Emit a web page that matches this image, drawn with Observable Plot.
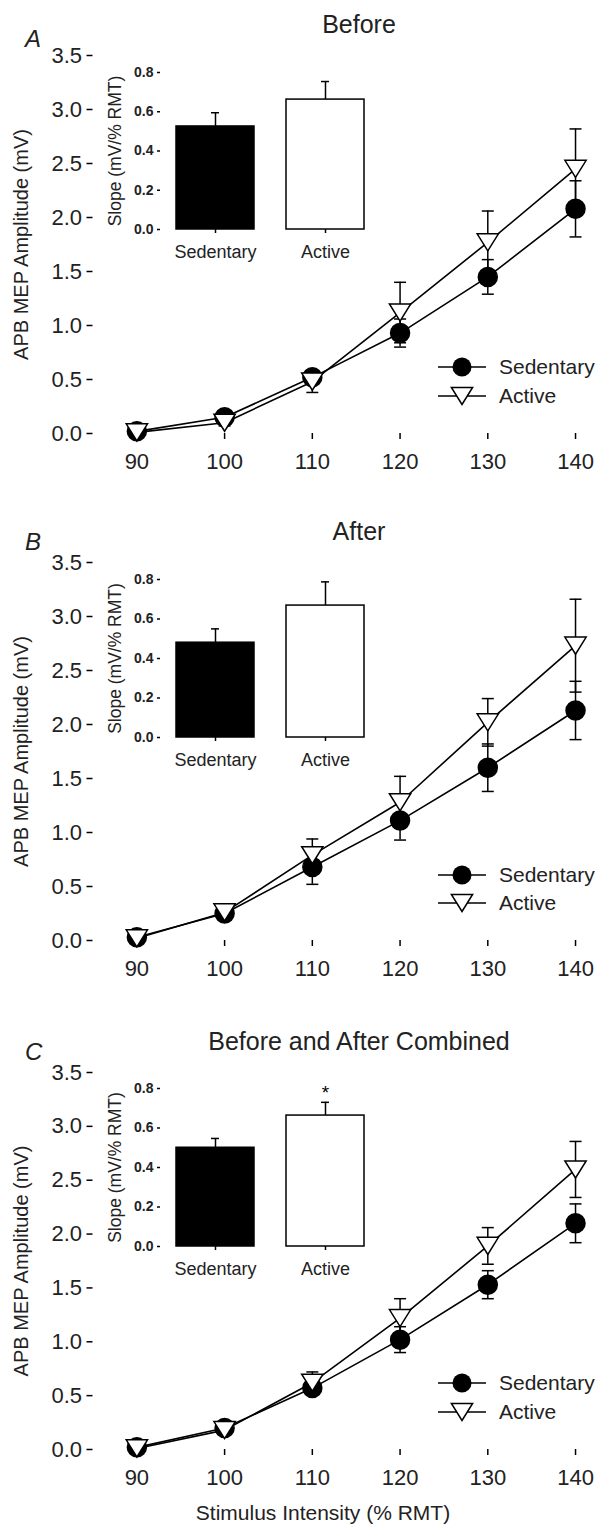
<!DOCTYPE html>
<html>
<head>
<meta charset="utf-8">
<script src="https://cdn.jsdelivr.net/npm/d3@7"></script>
<script src="https://cdn.jsdelivr.net/npm/@observablehq/plot@0.6"></script>
<style>
  body { margin: 0; background: #fff; }
  #root { position: relative; width: 611px; height: 1526px; overflow: hidden;
          font-family: Arial, "Liberation Sans", sans-serif; background: #fff; }
  #root svg { position: absolute; }
</style>
</head>
<body>
<div id="root"></div>
<script>
// ---------------- data ----------------
const intensity = [90, 100, 110, 120, 130, 140];
const groups = ["Sedentary", "Active"];
const panelTitles = ["Before", "After", "Before and After Combined"];
const panelLetters = ["A", "B", "C"];
const yTicks = [0, 0.5, 1.0, 1.5, 2.0, 2.5, 3.0, 3.5];
const slopeTicks = [0, 0.2, 0.4, 0.6, 0.8];
const yLabel = "APB MEP Amplitude (mV)";
const slopeLabel = "Slope (mV/% RMT)";
const xLabel = "Stimulus Intensity (% RMT)";

// Panel A (Before)
const beforeSedMean = [0.02, 0.15, 0.52, 0.93, 1.45, 2.08];
const beforeSedSem  = [0.01, 0.03, 0.06, 0.13, 0.16, 0.26];
const beforeActMean = [0.01, 0.10, 0.48, 1.12, 1.77, 2.45];
const beforeActSem  = [0.01, 0.03, 0.10, 0.28, 0.29, 0.37];
const beforeSlopeMean = [0.525, 0.662];
const beforeSlopeSem  = [0.070, 0.092];
const beforeSig = ["", ""];

// Panel B (After)
const afterSedMean = [0.03, 0.25, 0.68, 1.11, 1.60, 2.13];
const afterSedSem  = [0.01, 0.03, 0.16, 0.18, 0.22, 0.27];
const afterActMean = [0.02, 0.26, 0.79, 1.28, 2.02, 2.73];
const afterActSem  = [0.01, 0.03, 0.15, 0.24, 0.22, 0.43];
const afterSlopeMean = [0.48, 0.668];
const afterSlopeSem  = [0.07, 0.12];
const afterSig = ["", ""];

// Panel C (Combined)
const combSedMean = [0.02, 0.20, 0.57, 1.02, 1.53, 2.10];
const combSedSem  = [0.01, 0.02, 0.05, 0.12, 0.13, 0.18];
const combActMean = [0.01, 0.18, 0.62, 1.22, 1.89, 2.60];
const combActSem  = [0.01, 0.02, 0.10, 0.18, 0.17, 0.26];
const combSlopeMean = [0.50, 0.663];
const combSlopeSem  = [0.047, 0.067];
const combSig = ["", "*"];

// ---------------- layout ----------------
const FONT = 'Arial, "Liberation Sans", sans-serif';
const layouts = [
  { y35: 55,   y0: 433,  i08: 72,   i0: 229,  title: 33,   letter: 47,   leg: [367, 396] },
  { y35: 562,  y0: 940,  i08: 579,  i0: 737,  title: 540,  letter: 550,  leg: [875, 903] },
  { y35: 1072, y0: 1449, i08: 1088, i0: 1246, title: 1050, letter: 1060, leg: [1383, 1412] }
];
const panels = [
  { sed: [beforeSedMean, beforeSedSem], act: [beforeActMean, beforeActSem], slope: [beforeSlopeMean, beforeSlopeSem], sig: beforeSig },
  { sed: [afterSedMean, afterSedSem],   act: [afterActMean, afterActSem],   slope: [afterSlopeMean, afterSlopeSem],   sig: afterSig },
  { sed: [combSedMean, combSedSem],     act: [combActMean, combActSem],     slope: [combSlopeMean, combSlopeSem],     sig: combSig }
];

// custom symbols
const triDown = {
  draw(ctx, size) {
    const r = Math.sqrt(size / Math.PI);
    const w = 1.12 * r, h = 0.9 * r;
    ctx.moveTo(-w, -h); ctx.lineTo(w, -h); ctx.lineTo(0, h); ctx.closePath();
  }
};
const capSym = {
  draw(ctx, size) {
    const r = Math.sqrt(size / Math.PI);
    ctx.moveTo(-r, 0); ctx.lineTo(r, 0);
  }
};

const root = document.getElementById("root");

// overlay text svg (titles, letters, legend, x label)
const overlay = d3.select(root).append("svg")
  .attr("width", 611).attr("height", 1526)
  .style("left", "0px").style("top", "0px")
  .style("font-family", FONT);

function place(el, left, top) {
  el.style.position = "absolute";
  el.style.left = left + "px";
  el.style.top = top + "px";
  root.appendChild(el);
}

panels.forEach((p, k) => {
  const L = layouts[k];
  const rows = [];
  intensity.forEach((x, i) => rows.push({ group: "Sedentary", x, mean: p.sed[0][i], sem: p.sed[1][i] }));
  intensity.forEach((x, i) => rows.push({ group: "Active", x, mean: p.act[0][i], sem: p.act[1][i] }));
  const sedRows = rows.filter(d => d.group === "Sedentary");
  const actRows = rows.filter(d => d.group === "Active");

  const mt = 45, mb = 50;
  const main = Plot.plot({
    width: 611,
    height: (L.y0 - L.y35) + mt + mb,
    marginLeft: 92.5, marginRight: 0, marginTop: mt, marginBottom: mb,
    style: { background: "transparent", fontFamily: FONT, overflow: "visible", color: "black" },
    x: { domain: [85, 144.1] },
    y: { domain: [0, 3.5] },
    marks: [
      Plot.axisY({ ticks: yTicks, tickFormat: ".1f", tickSize: 6, tickPadding: 5, fontSize: 22,
                   label: null, line: true, strokeWidth: 1.5, fill: "#222" }),
      Plot.axisX({ ticks: intensity, tickFormat: d => String(d), tickSize: 6, tickPadding: 14, fontSize: 22,
                   label: null, line: true, strokeWidth: 1.5, fill: "#222" }),
      Plot.text([yLabel], { frameAnchor: "left", textAnchor: "middle", dx: -71, rotate: -90, fontSize: 20, fill: "#222" }),
      // error bars
      Plot.ruleX(rows, { x: "x", y1: d => d.mean - d.sem, y2: d => d.mean + d.sem, stroke: "black", strokeWidth: 1.5 }),
      Plot.dot(rows, { x: "x", y: d => d.mean + d.sem, symbol: capSym, r: 6, fill: "none", stroke: "black", strokeWidth: 1.5 }),
      Plot.dot(rows, { x: "x", y: d => d.mean - d.sem, symbol: capSym, r: 6, fill: "none", stroke: "black", strokeWidth: 1.5 }),
      // lines
      Plot.line(rows, { x: "x", y: "mean", z: "group", stroke: "black", strokeWidth: 1.6 }),
      // markers
      Plot.dot(sedRows, { x: "x", y: "mean", r: 9.5, fill: "black", stroke: "black" }),
      Plot.dot(actRows, { x: "x", y: "mean", symbol: triDown, r: 9.5, fill: "white", stroke: "black", strokeWidth: 1.5 })
    ]
  });
  place(main, 0, L.y35 - mt);

  // inset bar chart
  const bars = groups.map((g, i) => ({ group: g, mean: p.slope[0][i], sem: p.slope[1][i], sig: p.sig[i] }));
  const imt = 22, imb = 40;
  const inset = Plot.plot({
    width: 281,
    height: (L.i0 - L.i08) + imt + imb,
    marginLeft: 60, marginRight: 0, marginTop: imt, marginBottom: imb,
    style: { background: "transparent", fontFamily: FONT, overflow: "visible", color: "black" },
    x: { domain: groups, paddingInner: 0.29, paddingOuter: 0.145 },
    y: { domain: [0, 0.8] },
    marks: [
      Plot.axisY({ ticks: slopeTicks, tickFormat: ".1f", tickSize: 3, tickPadding: 4, fontSize: 14, fontWeight: "bold",
                   label: null, line: true, strokeWidth: 1.5, fill: "#222" }),
      Plot.axisX({ tickSize: 4, tickPadding: 12, fontSize: 18, label: null, line: true, strokeWidth: 1.5, fill: "#222" }),
      Plot.text([slopeLabel], { frameAnchor: "left", textAnchor: "middle", dx: -45, rotate: -90, fontSize: 17.5, fill: "#222" }),
      Plot.ruleX(bars, { x: "group", y1: "mean", y2: d => d.mean + d.sem, stroke: "black", strokeWidth: 1.5 }),
      Plot.tickY(bars, { x: "group", y: d => d.mean + d.sem, inset: 35, stroke: "black", strokeWidth: 1.5 }),
      Plot.barY(bars.filter(d => d.group === "Sedentary"), { x: "group", y: "mean", fill: "black", stroke: "black", strokeWidth: 1.5 }),
      Plot.barY(bars.filter(d => d.group === "Active"), { x: "group", y: "mean", fill: "white", stroke: "black", strokeWidth: 1.5 }),
      Plot.text(bars, { x: "group", y: d => d.mean + d.sem, text: "sig", dy: -9, fontSize: 19, fill: "black" })
    ]
  });
  place(inset, 100, L.i08 - imt);

  // title and letter
  overlay.append("text").attr("x", 359).attr("y", L.title).attr("text-anchor", "middle")
    .attr("font-size", 25).attr("fill", "#222").text(panelTitles[k]);
  overlay.append("text").attr("x", 25).attr("y", L.letter)
    .attr("font-size", 24).attr("font-style", "italic").attr("fill", "#222").text(panelLetters[k]);

  // legend
  const lg = overlay.append("g");
  groups.forEach((g, gi) => {
    const y = L.leg[gi];
    lg.append("line").attr("x1", 438).attr("x2", 486).attr("y1", y).attr("y2", y)
      .attr("stroke", "black").attr("stroke-width", 1.6);
    if (g === "Sedentary") {
      lg.append("circle").attr("cx", 462).attr("cy", y).attr("r", 9.5).attr("fill", "black");
    } else {
      lg.append("path").attr("d", "M451.4,-8.5L472.6,-8.5L462,8.5Z")
        .attr("transform", `translate(0,${y})`)
        .attr("fill", "white").attr("stroke", "black").attr("stroke-width", 1.5);
    }
    lg.append("text").attr("x", 499).attr("y", y).attr("dy", "0.35em")
      .attr("font-size", 21).attr("fill", "#222").text(g);
  });
});

overlay.append("text").attr("x", 323).attr("y", 1520).attr("text-anchor", "middle")
  .attr("font-size", 21).attr("fill", "#222").text(xLabel);
</script>
</body>
</html>
